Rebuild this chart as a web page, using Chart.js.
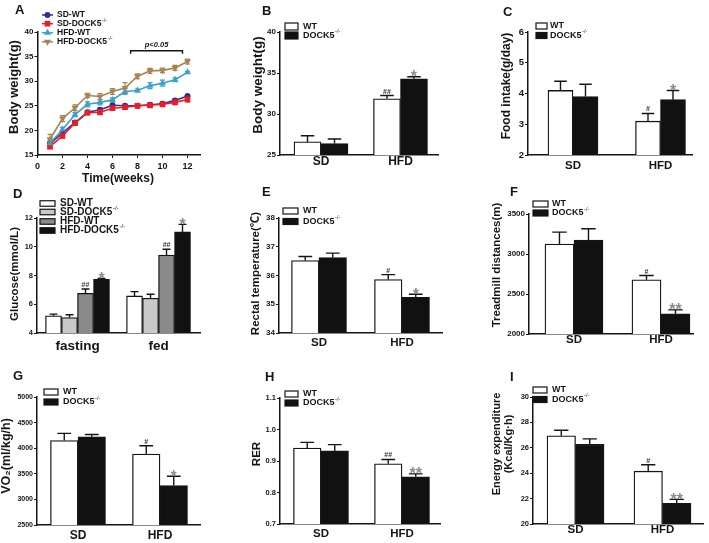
<!DOCTYPE html>
<html><head><meta charset="utf-8">
<script src="https://cdn.jsdelivr.net/npm/chart.js@4.4.1/dist/chart.umd.min.js"></script>
<style>
html,body{margin:0;padding:0;background:#fff;}
#wrap{position:relative;width:709px;height:543px;overflow:hidden;background:#fff;}
canvas{position:absolute;left:0;top:0;}
</style></head><body><div id="wrap"></div>
<script>
// ---------------- DATA ----------------
// Panel A: body weight over time
const weeks   = [1,2,3,4,5,6,7,8,9,10,11,12];
const aXTicks = [0,2,4,6,8,10,12];
const aYTicks = [15,20,25,30,35,40];
const aSdWT   = [17.3,19.5,21.6,23.7,24.2,25.1,25.0,25.0,25.2,25.4,26.1,27.0];
const aSdKO   = [16.7,18.9,21.5,23.6,23.7,24.5,24.7,25.0,25.1,25.3,25.7,26.3];
const aHfdWT  = [17.4,20.2,23.2,25.3,25.7,26.2,27.9,28.1,29.1,29.6,30.3,31.8];
const aHfdKO  = [18.2,22.4,24.6,27.1,26.9,27.9,28.6,31.0,32.1,32.2,32.7,34.0];
const aSdWTSem  = [0.4,0.3,0.4,0.3,0.4,0.3,0.3,0.3,0.3,0.3,0.3,0.3];
const aSdKOSem  = [0.4,0.4,0.5,0.4,0.5,0.4,0.4,0.3,0.3,0.3,0.3,0.5];
const aHfdWTSem = [0.6,0.4,0.4,0.5,0.5,0.4,0.6,0.3,0.6,0.6,0.4,0.2];
const aHfdKOSem = [1.0,0.6,0.6,0.45,0.6,0.6,1.1,0.5,0.5,0.45,0.5,0.5];
const aPRange = [7.45, 11.6];   // weeks covered by the p<0.05 bracket
const aPLevel = 36.2;           // bracket height (g)

// Bar panels
const diets  = ['SD','HFD'];
const states = ['fasting','fed'];
const groupLabels = ['WT','DOCK5-/-'];
const dLabels = ['SD-WT','SD-DOCK5-/-','HFD-WT','HFD-DOCK5-/-'];

const bTicks = [25,30,35,40];
const bWT = [26.6,31.85], bWTSem = [0.75,0.4], bWTMarks = ['','##'];
const bKO = [26.4,34.3],  bKOSem = [0.55,0.25], bKOMarks = ['','*'];

const cTicks = [2,3,4,5,6];
const cWT = [4.1,3.1], cWTSem = [0.3,0.25], cWTMarks = ['','#'];
const cKO = [3.9,3.8], cKOSem = [0.4,0.3],  cKOMarks = ['','*'];

const dTicks = [4,6,8,10,12];
const dSdWT  = [5.2,6.58],   dSdWTSem  = [0.11,0.3];
const dSdKO  = [5.08,6.42],  dSdKOSem  = [0.19,0.28];
const dHfdWT = [6.76,9.42],  dHfdWTSem = [0.3,0.41],  dHfdWTMarks = ['##','##'];
const dHfdKO = [7.73,11.03], dHfdKOSem = [0.07,0.53], dHfdKOMarks = ['*','*'];

const eTicks = [34,35,36,37,38];
const eWT = [36.52,35.86], eWTSem = [0.14,0.17], eWTMarks = ['','#'];
const eKO = [36.62,35.24], eKOSem = [0.16,0.11], eKOMarks = ['','*'];

const fTicks = [2000,2500,3000,3500];
const fWT = [3124,2677], fWTSem = [150,54], fWTMarks = ['','#'];
const fKO = [3174,2251], fKOSem = [142,50], fKOMarks = ['','**'];

const gTicks = [2500,3000,3500,4000,4500,5000];
const gWT = [4151,3884], gWTSem = [138,163], gWTMarks = ['','#'];
const gKO = [4223,3270], gKOSem = [46,183],  gKOMarks = ['','*'];

const hTicks = [0.7,0.8,0.9,1.0,1.1];
const hWT = [0.941,0.891], hWTSem = [0.018,0.014], hWTMarks = ['','##'];
const hKO = [0.932,0.850], hKOSem = [0.02,0.009],  hKOMarks = ['','**'];

const iTicks = [20,22,24,26,28,30];
const iWT = [26.94,24.16], iWTSem = [0.44,0.5],  iWTMarks = ['','#'];
const iKO = [26.28,21.62], iKOSem = [0.42,0.32], iKOMarks = ['','**'];

// ---------------- RENDERING ----------------
const FONT = '"Liberation Sans", Arial, Helvetica, "Noto Sans CJK SC", sans-serif';
const INK = '#151515';
const W = 709, H = 620;   // canvases are taller than the page; the wrapper crops at 543
const XH = 30;            // height reserved for x tick labels
const DECO = {};

function mk(id){
  const c = document.createElement('canvas');
  c.id = id; c.width = W; c.height = H;
  c.style.width = W + 'px'; c.style.height = H + 'px';
  document.getElementById('wrap').appendChild(c);
  return c;
}

function drawMarker(ctx, style, rot, x, y, r, color){
  ctx.save();
  ctx.fillStyle = color; ctx.strokeStyle = color;
  ctx.beginPath();
  if (style === 'rect') {
    const s = r * Math.SQRT1_2;
    ctx.rect(x - s, y - s, 2*s, 2*s);
  } else if (style === 'triangle') {
    let a = (rot || 0) * Math.PI / 180;
    ctx.moveTo(x + Math.sin(a)*r, y - Math.cos(a)*r);
    a += 2*Math.PI/3; ctx.lineTo(x + Math.sin(a)*r, y - Math.cos(a)*r);
    a += 2*Math.PI/3; ctx.lineTo(x + Math.sin(a)*r, y - Math.cos(a)*r);
    ctx.closePath();
  } else {
    ctx.arc(x, y, r, 0, Math.PI*2);
  }
  ctx.fill();
  ctx.restore();
}

function drawLabel(ctx, text, x, y, size){
  const m = text.match(/^(.*?)(-\/-)$/);
  const main = m ? m[1] : text;
  ctx.font = 'bold ' + size + 'px ' + FONT;
  ctx.textAlign = 'left'; ctx.textBaseline = 'middle'; ctx.fillStyle = INK;
  ctx.fillText(main, x, y);
  if (m) {
    const w = ctx.measureText(main).width;
    ctx.font = (size*0.62).toFixed(2) + 'px ' + FONT;
    ctx.fillText(m[2], x + w + 0.6, y - size*0.42);
  }
}

function valOf(ds, i){ const d = ds.data[i]; return (typeof d === 'object') ? d.y : d; }

function drawErr(chart, d){
  const ctx = chart.ctx, ys = chart.scales.y;
  chart.data.datasets.forEach((ds, di) => {
    if (!ds.sem) return;
    const meta = chart.getDatasetMeta(di);
    ctx.save();
    ctx.strokeStyle = d.both ? ds.borderColor : INK;
    ctx.lineWidth = d.errW || 1.4;
    meta.data.forEach((el, i) => {
      const v = valOf(ds, i), s = ds.sem[i];
      const yt = ys.getPixelForValue(v + s);
      const yb = d.both ? ys.getPixelForValue(v - s) : el.y;
      const cw = d.capW;
      ctx.beginPath();
      ctx.moveTo(el.x, yb); ctx.lineTo(el.x, yt);
      ctx.moveTo(el.x - cw/2, yt); ctx.lineTo(el.x + cw/2, yt);
      if (d.both) { ctx.moveTo(el.x - cw/2, yb); ctx.lineTo(el.x + cw/2, yb); }
      ctx.stroke();
    });
    ctx.restore();
  });
}

function drawMarks(chart){
  const ctx = chart.ctx, ys = chart.scales.y;
  chart.data.datasets.forEach((ds, di) => {
    if (!ds.marks) return;
    const meta = chart.getDatasetMeta(di);
    meta.data.forEach((el, i) => {
      const m = ds.marks[i]; if (!m) return;
      const yt = ys.getPixelForValue(valOf(ds, i) + ds.sem[i]);
      ctx.save();
      ctx.textAlign = 'center'; ctx.textBaseline = 'alphabetic';
      if (m[0] === '#') {
        ctx.font = 'bold 7px ' + FONT; ctx.fillStyle = '#333';
        ctx.fillText(m, el.x, yt - 2);
      } else {
        ctx.font = 'bold 16px ' + FONT; ctx.fillStyle = '#8c8c8c';
        ctx.fillText(m, el.x, yt + 5.5);
      }
      ctx.restore();
    });
  });
}

const decor = {
  id: 'decor',
  beforeDatasetsDraw(chart){
    const d = DECO[chart.canvas.id]; if (d && d.both) drawErr(chart, d);
  },
  afterDatasetsDraw(chart){
    const d = DECO[chart.canvas.id]; if (!d) return;
    if (!d.both) drawErr(chart, d);
    drawMarks(chart);
  },
  afterDraw(chart){
    const d = DECO[chart.canvas.id]; if (!d) return;
    const ctx = chart.ctx;
    ctx.save();
    // panel letter
    ctx.font = 'bold 13px ' + FONT; ctx.fillStyle = INK;
    ctx.textAlign = 'left'; ctx.textBaseline = 'middle';
    ctx.fillText(d.letter[0], d.letter[1], d.letter[2]);
    // y title
    const yt = d.ytitle;
    ctx.font = 'bold ' + yt.size + 'px ' + FONT;
    yt.lines.forEach((t, k) => {
      ctx.save();
      ctx.translate(yt.xs[k], yt.y);
      ctx.rotate(-Math.PI/2);
      ctx.textAlign = 'center'; ctx.textBaseline = 'middle';
      ctx.fillText(t, 0, 0);
      ctx.restore();
    });
    // x title
    if (d.xtitle) {
      ctx.font = 'bold ' + d.xtitle.size + 'px ' + FONT;
      ctx.textAlign = 'center'; ctx.textBaseline = 'middle';
      ctx.fillText(d.xtitle.text, d.xtitle.x, d.xtitle.y);
    }
    // legend
    const L = d.legend;
    chart.data.datasets.forEach((ds, i) => {
      const y = L.ys[i];
      if (L.type === 'line') {
        ctx.strokeStyle = ds.borderColor; ctx.lineWidth = 1.5;
        ctx.beginPath(); ctx.moveTo(L.x, y); ctx.lineTo(L.x + L.w, y); ctx.stroke();
        drawMarker(ctx, ds.pointStyle, ds.pointRotation, L.x + L.w/2, y, ds.pointRadius, ds.borderColor);
      } else {
        ctx.fillStyle = ds.backgroundColor;
        ctx.fillRect(L.x, y - L.h/2, L.w, L.h);
        ctx.strokeStyle = INK; ctx.lineWidth = 1.2;
        ctx.strokeRect(L.x, y - L.h/2, L.w, L.h);
      }
      drawLabel(ctx, ds.label, L.tx, y, L.size);
    });
    // significance bracket (panel A)
    if (d.bracket) {
      const xs = chart.scales.x, ys = chart.scales.y;
      const x0 = xs.getPixelForValue(d.bracket.range[0]), x1 = xs.getPixelForValue(d.bracket.range[1]);
      const yb = ys.getPixelForValue(d.bracket.level);
      ctx.strokeStyle = INK; ctx.lineWidth = 1.4;
      ctx.beginPath();
      ctx.moveTo(x0, yb + 3); ctx.lineTo(x0, yb); ctx.lineTo(x1, yb); ctx.lineTo(x1, yb + 3);
      ctx.stroke();
      ctx.font = 'italic bold 7.5px ' + FONT; ctx.fillStyle = INK;
      ctx.textAlign = 'center'; ctx.textBaseline = 'alphabetic';
      ctx.fillText(d.bracket.text, (x0 + x1)/2, yb - 4);
    }
    ctx.restore();
  }
};
Chart.register(decor);

function yScale(ticks, size, dec){
  return {
    type: 'linear', min: ticks[0], max: ticks[ticks.length-1],
    afterFit: s => { s.width = 30; },
    afterBuildTicks: s => { s.ticks = ticks.map(v => ({value: v})); },
    ticks: { callback: v => dec ? Number(v).toFixed(dec) : v, color: INK, padding: 1,
             font: { family: FONT, size: size, weight: 'bold', lineHeight: 1 } },
    grid: { display: true, drawOnChartArea: false, drawTicks: true, tickLength: 3, color: INK, lineWidth: 1 },
    border: { display: true, color: INK, width: 1.5 }
  };
}

function layout(a){
  return { padding: { left: a.l - 30, top: a.t, right: W - a.r, bottom: H - a.b - XH } };
}

function barPanel(id, P){
  DECO[id] = P.deco;
  P.deco.capW = P.thick * 0.5;
  return new Chart(mk(id), {
    type: 'bar',
    data: { datasets: P.series.map(s => ({
      label: s.label,
      data: s.values.map((v, i) => ({x: i, y: v})),
      sem: s.sem, marks: s.marks,
      backgroundColor: s.fill, borderColor: INK, borderWidth: 1.3, borderSkipped: false,
      barThickness: P.thick
    })) },
    options: {
      responsive: false, animation: false, events: [],
      layout: layout(P.area),
      plugins: { legend: { display: false }, tooltip: { enabled: false } },
      scales: {
        x: {
          type: 'linear', offset: false, min: P.xr[0], max: P.xr[1],
          afterFit: s => { s.height = XH; },
          afterBuildTicks: s => { s.ticks = P.cats.map((c, i) => ({value: i})); },
          ticks: { callback: v => P.cats[v], color: INK, padding: P.xpad, maxRotation: 0, autoSkip: false,
                   font: { family: FONT, size: P.xsize, weight: 'bold', lineHeight: 1 } },
          grid: { display: false, drawTicks: false, tickLength: 0 },
          border: { display: true, color: INK, width: 1.5 }
        },
        y: yScale(P.ticks, P.ysize, P.dec)
      }
    }
  });
}

function ser(label, values, sem, marks, fill){ return {label, values, sem, marks, fill}; }

// ---- Panel A (line) ----
(function(){
  const id = 'cA';
  const area = {l: 37.5, t: 32, r: 200, b: 155};
  DECO[id] = {
    both: true, capW: 5, errW: 1.2,
    letter: ['A', 15, 10],
    ytitle: { lines: ['Body weight(g)'], xs: [14], y: 87, size: 13 },
    xtitle: { text: 'Time(weeks)', x: 118, y: 179, size: 12 },
    legend: { type: 'line', x: 42, w: 11, ys: [15, 23.7, 32.7, 41.8], tx: 57, size: 8.5 },
    bracket: { range: aPRange, level: aPLevel, text: 'p<0.05' }
  };
  const mkLine = (label, vals, sem, color, style, rot, r, order) => ({
    label, data: weeks.map((w, i) => ({x: w, y: vals[i]})), sem,
    borderColor: color, backgroundColor: color, borderWidth: 1.6,
    pointStyle: style, pointRotation: rot, pointRadius: r, pointBorderWidth: 0,
    pointBackgroundColor: color, tension: 0, order
  });
  new Chart(mk(id), {
    type: 'line',
    data: { datasets: [
      mkLine('SD-WT', aSdWT, aSdWTSem, '#2e3192', 'circle', 0, 3, 3),
      mkLine('SD-DOCK5-/-', aSdKO, aSdKOSem, '#ed1c24', 'rect', 0, 4, 2),
      mkLine('HFD-WT', aHfdWT, aHfdWTSem, '#3aa3c9', 'triangle', 0, 4, 1),
      mkLine('HFD-DOCK5-/-', aHfdKO, aHfdKOSem, '#a9834f', 'triangle', 180, 4, 0)
    ] },
    options: {
      responsive: false, animation: false, events: [],
      layout: layout(area),
      plugins: { legend: { display: false }, tooltip: { enabled: false } },
      scales: {
        x: {
          type: 'linear', min: 0, max: 13,
          afterFit: s => { s.height = XH; },
          afterBuildTicks: s => { s.ticks = aXTicks.map(v => ({value: v})); },
          ticks: { color: INK, padding: 4.4, maxRotation: 0, autoSkip: false,
                   font: { family: FONT, size: 9, weight: 'bold', lineHeight: 1 } },
          grid: { display: true, drawOnChartArea: false, drawTicks: true, tickLength: 3, color: INK, lineWidth: 1 },
          border: { display: true, color: INK, width: 1.5 }
        },
        y: yScale(aYTicks, 8, 0)
      }
    }
  });
})();

// ---- Panel B ----
barPanel('cB', {
  area: {l: 280, t: 32, r: 438, b: 155}, xr: [-0.516, 1.472], cats: diets, thick: 27,
  ticks: bTicks, ysize: 8, xsize: 12, xpad: 1,
  series: [ser(groupLabels[0], bWT, bWTSem, bWTMarks, '#ffffff'), ser(groupLabels[1], bKO, bKOSem, bKOMarks, '#111111')],
  deco: { letter: ['B', 262, 11], ytitle: { lines: ['Body weight(g)'], xs: [258], y: 85, size: 13.5 },
          legend: { type: 'box', x: 285, w: 13, h: 7, ys: [26.5, 35.5], tx: 303, size: 9 } }
});

// ---- Panel C ----
barPanel('cC', {
  area: {l: 528, t: 32, r: 692, b: 155}, xr: [-0.514, 1.36], cats: diets, thick: 25,
  ticks: cTicks, ysize: 9.5, xsize: 11.5, xpad: 5,
  series: [ser(groupLabels[0], cWT, cWTSem, cWTMarks, '#ffffff'), ser(groupLabels[1], cKO, cKOSem, cKOMarks, '#111111')],
  deco: { letter: ['C', 503, 12], ytitle: { lines: ['Food intake(g/day)'], xs: [507], y: 86, size: 12 },
          legend: { type: 'box', x: 536, w: 11, h: 6, ys: [26, 35.5], tx: 550, size: 9 } }
});

// ---- Panel D ----
barPanel('cD', {
  area: {l: 37, t: 218, r: 200, b: 333}, xr: [-0.5, 1.512], cats: states, thick: 16,
  ticks: dTicks, ysize: 7.5, xsize: 13.5, xpad: 6.5,
  series: [ser(dLabels[0], dSdWT, dSdWTSem, null, '#ffffff'), ser(dLabels[1], dSdKO, dSdKOSem, null, '#c9c9c9'),
           ser(dLabels[2], dHfdWT, dHfdWTSem, dHfdWTMarks, '#8a8a8a'), ser(dLabels[3], dHfdKO, dHfdKOSem, dHfdKOMarks, '#111111')],
  deco: { letter: ['D', 13, 194], ytitle: { lines: ['Glucose(mmol/L)'], xs: [15], y: 274, size: 11.5 },
          legend: { type: 'box', x: 40, w: 15, h: 5.5, ys: [203.5, 212, 221.5, 230.5], tx: 60, size: 10 } }
});

// ---- Panel E ----
barPanel('cE', {
  area: {l: 279, t: 218, r: 442, b: 333}, xr: [-0.482, 1.482], cats: diets, thick: 27.5,
  ticks: eTicks, ysize: 8, xsize: 11.5, xpad: 4.5,
  series: [ser(groupLabels[0], eWT, eWTSem, eWTMarks, '#ffffff'), ser(groupLabels[1], eKO, eKOSem, eKOMarks, '#111111')],
  deco: { letter: ['E', 262, 192], ytitle: { lines: ['Rectal temperature(\u2103)'], xs: [256], y: 273.5, size: 11.5 },
          legend: { type: 'box', x: 283, w: 15, h: 6, ys: [211, 221.5], tx: 303, size: 9 } }
});

// ---- Panel F ----
barPanel('cF', {
  area: {l: 529, t: 214, r: 693, b: 334}, xr: [-0.517, 1.368], cats: diets, thick: 29,
  ticks: fTicks, ysize: 8, xsize: 11.5, xpad: 0.3,
  series: [ser(groupLabels[0], fWT, fWTSem, fWTMarks, '#ffffff'), ser(groupLabels[1], fKO, fKOSem, fKOMarks, '#111111')],
  deco: { letter: ['F', 510, 192], ytitle: { lines: ['Treadmill distances(m)'], xs: [497], y: 265, size: 11.5 },
          legend: { type: 'box', x: 533, w: 15, h: 6, ys: [204, 213], tx: 552, size: 9 } }
});

// ---- Panel G ----
barPanel('cG', {
  area: {l: 37, t: 397, r: 200, b: 525}, xr: [-0.5, 1.488], cats: diets, thick: 27.5,
  ticks: gTicks, ysize: 7, xsize: 12, xpad: 4.5,
  series: [ser(groupLabels[0], gWT, gWTSem, gWTMarks, '#ffffff'), ser(groupLabels[1], gKO, gKOSem, gKOMarks, '#111111')],
  deco: { letter: ['G', 13, 376], ytitle: { lines: ['VO\u2082(ml/kg/h)'], xs: [7], y: 456, size: 12.5 },
          legend: { type: 'box', x: 44, w: 14, h: 6, ys: [392, 402], tx: 63, size: 9 } }
});

// ---- Panel H ----
barPanel('cH', {
  area: {l: 280, t: 398, r: 440, b: 524}, xr: [-0.506, 1.469], cats: diets, thick: 27.5,
  ticks: hTicks, ysize: 7.5, xsize: 11.5, xpad: 4.5, dec: 1,
  series: [ser(groupLabels[0], hWT, hWTSem, hWTMarks, '#ffffff'), ser(groupLabels[1], hKO, hKOSem, hKOMarks, '#111111')],
  deco: { letter: ['H', 265, 377], ytitle: { lines: ['RER'], xs: [257], y: 454, size: 11.5 },
          legend: { type: 'box', x: 285, w: 13, h: 6, ys: [394, 403], tx: 303, size: 9 } }
});

// ---- Panel I ----
barPanel('cI', {
  area: {l: 533, t: 397, r: 703, b: 524}, xr: [-0.489, 1.466], cats: diets, thick: 28.5,
  ticks: iTicks, ysize: 7.5, xsize: 11.5, xpad: 0.3,
  series: [ser(groupLabels[0], iWT, iWTSem, iWTMarks, '#ffffff'), ser(groupLabels[1], iKO, iKOSem, iKOMarks, '#111111')],
  deco: { letter: ['I', 510, 377], ytitle: { lines: ['Energy expenditure', '(Kcal/Kg\u00b7h)'], xs: [497, 509], y: 444, size: 11 },
          legend: { type: 'box', x: 533, w: 14, h: 6, ys: [390, 399.5], tx: 552, size: 9 } }
});
</script>
</body></html>
